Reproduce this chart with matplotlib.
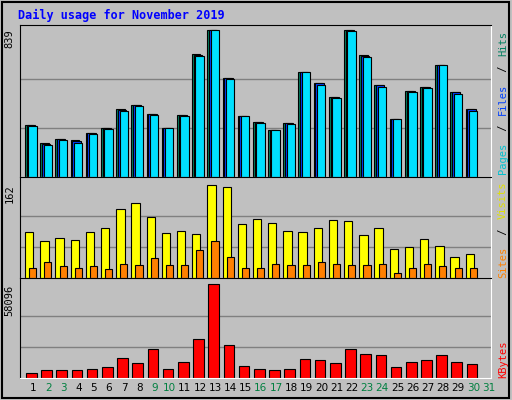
import numpy as np
import matplotlib
matplotlib.use('Agg')
import matplotlib.pyplot as plt

days = np.arange(1, 31)
hits = [298, 196, 218, 213, 252, 281, 389, 412, 361, 281, 355, 702, 839, 566, 349,
        315, 270, 309, 600, 537, 457, 839, 697, 526, 332, 492, 514, 640, 486, 389]
files = [296, 190, 216, 206, 250, 279, 384, 409, 358, 281, 352, 697, 839, 563, 349,
         313, 268, 307, 600, 534, 455, 839, 692, 523, 332, 490, 512, 640, 484, 386]
pages = [292, 184, 213, 196, 247, 275, 378, 406, 355, 281, 349, 691, 839, 560, 349,
         309, 265, 304, 600, 526, 452, 834, 681, 514, 332, 486, 509, 640, 475, 378]
visits = [80, 64, 69, 65, 80, 87, 120, 130, 106, 78, 81, 76, 162, 157, 94,
          102, 95, 81, 80, 87, 101, 99, 74, 87, 50, 53, 67, 55, 37, 41]
sites = [18, 27, 20, 18, 20, 15, 25, 23, 34, 23, 22, 48, 64, 37, 18,
         18, 25, 22, 22, 27, 25, 22, 22, 25, 8, 18, 25, 20, 18, 18]
kbytes = [3392, 4665, 4665, 4665, 5300, 6573, 12298, 9117, 18022, 5300, 9753, 24383,
          58096, 20566, 7209, 5300, 4665, 5300, 11661, 11025, 9117, 18022, 14842,
          14205, 6573, 9753, 11025, 14205, 9753, 8481]
weekend = [2, 3, 9, 10, 16, 17, 23, 24, 30, 31]

bg = '#C0C0C0'
mono = 'DejaVu Sans Mono'
fig = plt.figure(figsize=(5.12, 4), dpi=100, facecolor=bg)
fig.patches.append(plt.Rectangle((0.004, 0.006), 0.99, 0.99, transform=fig.transFigure,
                                 fill=False, edgecolor='black', lw=1.5))
fig.text(18 / 512, 1 - 15 / 400, 'Daily usage for November 2019', color='#0000FF',
         fontsize=8.5, fontweight='bold', family=mono, va='center')

L, W = 20 / 512, 471 / 512
ax1 = fig.add_axes([L, 0.5575, W, 0.38])
ax2 = fig.add_axes([L, 0.305, W, 0.2525])
ax3 = fig.add_axes([L, 0.055, W, 0.25])

def style(ax, top, vmax):
    ax.set_facecolor(bg)
    ax.set_xlim(0.5, 31.5)
    ax.set_ylim(0, top)
    ax.set_xticks([])
    ax.set_yticks([])
    for y in (vmax / 3, vmax * 2 / 3):
        ax.axhline(y, color='#808080', lw=1, zorder=0)
    for s in ax.spines.values():
        s.set_color('white')
    ax.spines['top'].set_color('black')
    ax.spines['left'].set_color('black')
    ax.text(-0.012, vmax, str(vmax), transform=ax.get_yaxis_transform(), rotation=90,
            ha='right', va='top', fontsize=7.5, family=mono)

style(ax1, 866, 839)
style(ax2, 175, 162)
style(ax3, 62100, 58096)

kw = dict(align='edge', edgecolor='black', linewidth=0.8)
ax1.bar(days - 0.17, hits, 0.55, color='#008060', **kw)
ax1.bar(days - 0.06, files, 0.55, color='#0040FF', **kw)
ax1.bar(days + 0.05, pages, 0.55, color='#00E0FF', **kw)
ax2.bar(days - 0.17, visits, 0.55, color='#FFFF00', **kw)
ax2.bar(days + 0.1, sites, 0.47, color='#FF8000', **kw)
ax3.bar(days - 0.1, kbytes, 0.7, color='#FF0000', **kw)

for d in range(1, 32):
    ax3.text(d + 0.35, -0.05, str(d), transform=ax3.get_xaxis_transform(), ha='center',
             va='top', fontsize=7.5, color='#008040' if d in weekend else 'black')

def side(ax, parts, y0):
    y = y0
    for txt, col in parts:
        t = ax.text(1.015, y, txt, transform=ax.transAxes, rotation=90, ha='left',
                    va='bottom', fontsize=7.5, family=mono, color=col)
        y += len(txt) * 0.0485 * (0.38 / ax.get_position().height)

side(ax1, [('Pages', '#00C0D0'), (' / ', 'black'), ('Files', '#0040FF'),
           (' / ', 'black'), ('Hits', '#008060')], 0.02)
side(ax2, [('Sites', '#FF8000'), (' / ', 'black'), ('Visits', '#E0E000')], 0.0)
side(ax3, [('KBytes', '#FF0000')], 0.0)

fig.savefig('out.png', dpi=100, facecolor=bg)
